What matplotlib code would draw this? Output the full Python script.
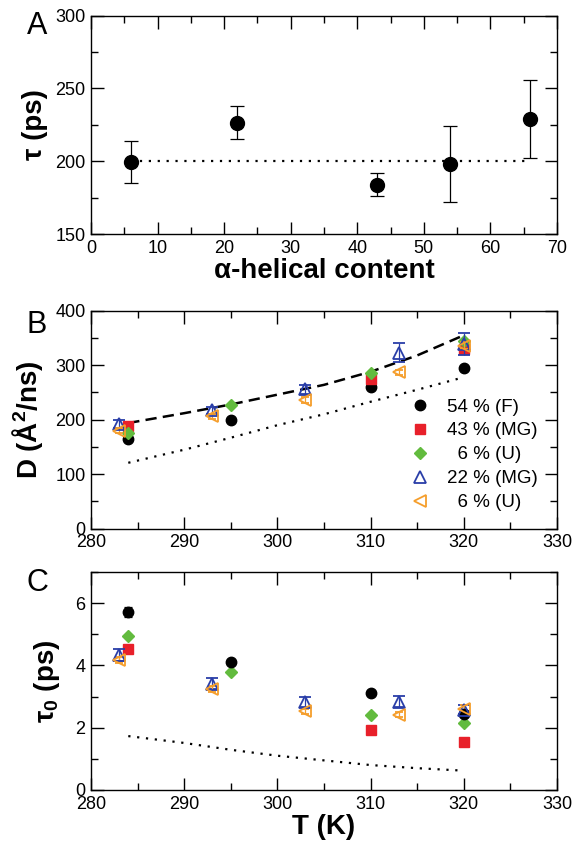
import matplotlib
matplotlib.use('Agg')
import matplotlib.pyplot as plt
import numpy as np
from matplotlib.lines import Line2D
from matplotlib.ticker import MultipleLocator

plt.rcParams['font.family'] = ['Liberation Sans', 'DejaVu Sans']
plt.rcParams['mathtext.fontset'] = 'custom'
plt.rcParams['mathtext.rm'] = 'Liberation Sans'
plt.rcParams['mathtext.bf'] = 'Liberation Sans:bold'
plt.rcParams['mathtext.it'] = 'Liberation Sans:italic'

# --- Panel A: relaxation time vs helical content ---
helix = [6, 22, 43, 54, 66]
tau = [199.5, 226, 184, 198, 229]
tau_lo = [185, 215, 176, 172, 202]
tau_hi = [214, 238, 192, 224, 256]
helix_avg = [6, 66]
tau_avg = [200, 200]

# --- Panels B and C: temperature series ---
T_f = [284, 295, 310, 320]
D_f = [164, 200, 260, 295]
tau0_f = [5.72, 4.12, 3.12, 2.45]
tau0_f_err = [0.15, 0.05, 0.05, 0.08]

T_mg43 = [284, 310, 320]
D_mg43 = [189, 274, 330]
tau0_mg43 = [4.53, 1.91, 1.54]

T_u6 = [284, 295, 310, 320]
D_u6 = [176, 227, 285, 344]
tau0_u6 = [4.95, 3.79, 2.41, 2.15]

T_mg22 = [283, 293, 303, 313, 320]
D_mg22 = [192, 217, 256, 323, 339]
D_mg22_err = [8, 7, 8, 17, 20]
tau0_mg22 = [4.33, 3.41, 2.82, 2.84, 2.58]
tau0_mg22_err = [0.2, 0.17, 0.15, 0.18, 0.15]

T_u6b = [283, 293, 303, 313, 320]
D_u6b = [180, 206, 236, 287, 336]
D_u6b_err = [5, 5, 5, 5, 6]
tau0_u6b = [4.18, 3.24, 2.53, 2.42, 2.60]
tau0_u6b_err = [0.1, 0.1, 0.08, 0.08, 0.12]

T_fit = [284, 290, 295, 300, 305, 310, 315, 320]
D_dash = [194, 212, 228, 246, 264, 288, 318, 355]
D_dot = [121, 145, 167, 190, 210, 233, 255, 278]
tau0_dot = [1.73, 1.51, 1.29, 1.10, 0.95, 0.80, 0.70, 0.62]

labels = ['54 % (F)', '43 % (MG)', '  6 % (U)', '22 % (MG)', '  6 % (U)']
c_red = '#e8202a'
c_green = '#62bb3e'
c_blue = '#2a3ea8'
c_orange = '#f59e2c'

# marker styles per series
st_f = dict(marker='o', color='black', ms=7.5, linestyle='none')
st_mg43 = dict(marker='s', color=c_red, ms=7, linestyle='none')
st_u6 = dict(marker='D', color=c_green, ms=6.5, linestyle='none')
st_mg22 = dict(marker='^', color=c_blue, mfc='none', mew=1.3, ms=8, linestyle='none')
st_u6b = dict(marker='<', color=c_orange, mfc='none', mew=1.3, ms=8, linestyle='none')

fig = plt.figure(figsize=(5.73, 8.43), dpi=100)
axA = fig.add_axes([0.1588, 0.7224, 0.8133, 0.259])
axB = fig.add_axes([0.1588, 0.3728, 0.8133, 0.2586])
axC = fig.add_axes([0.1588, 0.0629, 0.8133, 0.2586])


def style(ax):
    ax.tick_params(which='both', direction='in', top=True, right=True,
                   width=1, labelsize=13, pad=4)
    ax.tick_params(which='major', length=9)
    ax.tick_params(which='minor', length=5)
    for s in ax.spines.values():
        s.set_linewidth(1.0)


dot = (0, (1, 3))
eb = dict(elinewidth=0.9, capthick=0.9)

# A
axA.plot(helix_avg, tau_avg, color='black', lw=1.6, linestyle=dot)
tau_arr = np.array(tau)
axA.errorbar(helix, tau, yerr=[tau_arr - np.array(tau_lo), np.array(tau_hi) - tau_arr],
             fmt='o', color='black', ms=10, capsize=5, linestyle='none', **eb)
axA.set_xlim(0, 70)
axA.set_ylim(150, 300)
axA.xaxis.set_major_locator(MultipleLocator(10))
axA.xaxis.set_minor_locator(MultipleLocator(5))
axA.yaxis.set_major_locator(MultipleLocator(50))
axA.yaxis.set_minor_locator(MultipleLocator(25))
axA.set_xlabel('α-helical content', fontsize=20, fontweight='bold', labelpad=1)
axA.set_ylabel('τ (ps)', fontsize=20, fontweight='bold')
style(axA)

# B
axB.plot(T_fit, D_dash, color='black', lw=1.8, linestyle=(0, (4.5, 2.5)))
axB.plot(T_fit, D_dot, color='black', lw=1.6, linestyle=dot)
axB.plot(T_f, D_f, **st_f)
axB.plot(T_mg43, D_mg43, **st_mg43)
axB.plot(T_u6, D_u6, **st_u6)
axB.errorbar(T_mg22, D_mg22, yerr=D_mg22_err, capsize=4, **st_mg22, **eb)
axB.errorbar(T_u6b, D_u6b, yerr=D_u6b_err, capsize=3, **st_u6b, **eb)
axB.set_xlim(280, 330)
axB.set_ylim(0, 400)
axB.xaxis.set_major_locator(MultipleLocator(10))
axB.xaxis.set_minor_locator(MultipleLocator(5))
axB.yaxis.set_major_locator(MultipleLocator(100))
axB.yaxis.set_minor_locator(MultipleLocator(50))
axB.set_ylabel(r'D (Å$^{\mathbf{2}}$/ns)', fontsize=20, fontweight='bold')
handles = [Line2D([], [], **s) for s in (st_f, st_mg43, st_u6, st_mg22, st_u6b)]
axB.legend(handles, labels, loc='upper right', bbox_to_anchor=(0.994, 0.675),
           frameon=False, fontsize=13.5, handlelength=1.0, handletextpad=0.9,
           labelspacing=0.36, borderpad=0.4)
style(axB)

# C
axC.plot(T_fit, tau0_dot, color='black', lw=1.6, linestyle=dot)
axC.errorbar(T_f, tau0_f, yerr=tau0_f_err, capsize=3, **st_f, **eb)
axC.plot(T_mg43, tau0_mg43, **st_mg43)
axC.plot(T_u6, tau0_u6, **st_u6)
axC.errorbar(T_mg22, tau0_mg22, yerr=tau0_mg22_err, capsize=4, **st_mg22, **eb)
axC.errorbar(T_u6b, tau0_u6b, yerr=tau0_u6b_err, capsize=3, **st_u6b, **eb)
axC.set_xlim(280, 330)
axC.set_ylim(0, 7)
axC.xaxis.set_major_locator(MultipleLocator(10))
axC.xaxis.set_minor_locator(MultipleLocator(5))
axC.yaxis.set_major_locator(MultipleLocator(2))
axC.yaxis.set_minor_locator(MultipleLocator(1))
axC.set_xlabel('T (K)', fontsize=20, fontweight='bold', labelpad=1)
axC.set_ylabel(r'τ$_{\mathbf{0}}$ (ps)', fontsize=20, fontweight='bold')
style(axC)

axA.yaxis.set_label_coords(-0.092, 0.5)
axB.yaxis.set_label_coords(-0.099, 0.5)
axC.yaxis.set_label_coords(-0.062, 0.5)

fig.text(0.0646, 0.969, 'A', fontsize=22, ha='center', va='center')
fig.text(0.0646, 0.6145, 'B', fontsize=22, ha='center', va='center')
fig.text(0.0646, 0.308, 'C', fontsize=22, ha='center', va='center')

fig.savefig('out.png', dpi=100)
